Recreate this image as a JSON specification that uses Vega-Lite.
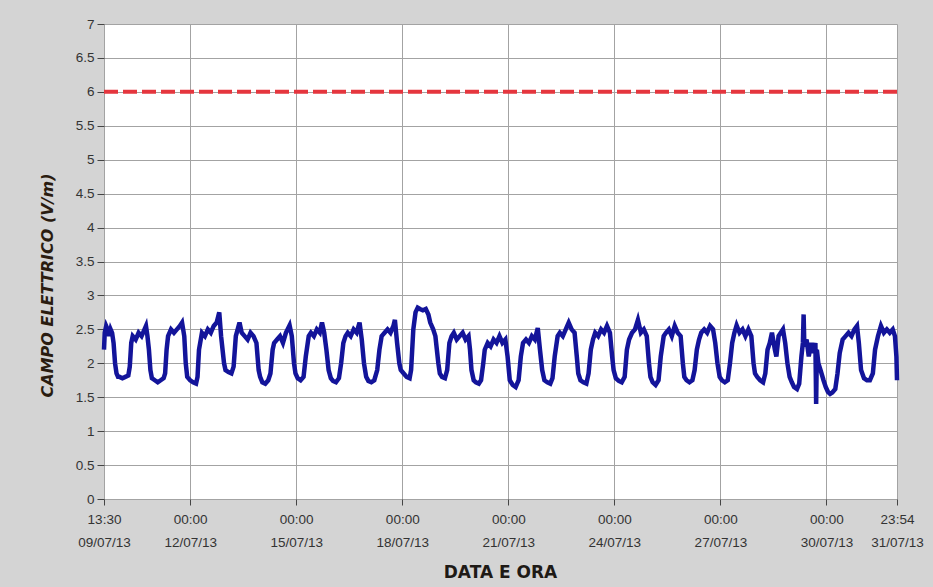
{
  "$schema": "https://vega.github.io/schema/vega-lite/v6.json",
  "width": 793,
  "height": 475,
  "autosize": {"type": "none"},
  "padding": {"left": 104, "top": 24, "right": 36, "bottom": 88},
  "background": "#d4d4d4",
  "config": {"view": {"fill": "white", "stroke": null}, "font": "Liberation Sans"},
  "data": {"values": [
    {"t":"2013-07-09T13:30","v":2.2},{"t":"2013-07-09T14:00","v":2.45},{"t":"2013-07-09T15:00","v":2.55},{"t":"2013-07-09T16:00","v":2.5},{"t":"2013-07-09T17:00","v":2.4},{"t":"2013-07-09T18:00","v":2.5},{"t":"2013-07-09T19:00","v":2.45},{"t":"2013-07-09T20:00","v":2.3},{"t":"2013-07-09T21:00","v":2.0},{"t":"2013-07-09T22:00","v":1.85},{"t":"2013-07-09T23:00","v":1.8},
    {"t":"2013-07-10T00:00","v":1.8},{"t":"2013-07-10T02:00","v":1.78},{"t":"2013-07-10T04:00","v":1.8},{"t":"2013-07-10T06:00","v":1.82},{"t":"2013-07-10T07:00","v":1.95},{"t":"2013-07-10T08:00","v":2.3},{"t":"2013-07-10T09:00","v":2.4},{"t":"2013-07-10T11:00","v":2.35},{"t":"2013-07-10T13:00","v":2.45},{"t":"2013-07-10T15:00","v":2.4},{"t":"2013-07-10T17:00","v":2.5},{"t":"2013-07-10T18:00","v":2.55},{"t":"2013-07-10T19:00","v":2.4},{"t":"2013-07-10T20:00","v":2.2},{"t":"2013-07-10T21:00","v":1.9},{"t":"2013-07-10T22:00","v":1.78},
    {"t":"2013-07-11T00:00","v":1.75},{"t":"2013-07-11T02:00","v":1.72},{"t":"2013-07-11T04:00","v":1.75},{"t":"2013-07-11T06:00","v":1.78},{"t":"2013-07-11T07:00","v":1.85},{"t":"2013-07-11T08:00","v":2.2},{"t":"2013-07-11T09:00","v":2.4},{"t":"2013-07-11T11:00","v":2.5},{"t":"2013-07-11T13:00","v":2.45},{"t":"2013-07-11T15:00","v":2.5},{"t":"2013-07-11T17:00","v":2.55},{"t":"2013-07-11T18:30","v":2.6},{"t":"2013-07-11T20:00","v":2.4},{"t":"2013-07-11T21:00","v":2.0},{"t":"2013-07-11T22:00","v":1.8},
    {"t":"2013-07-12T00:00","v":1.75},{"t":"2013-07-12T02:00","v":1.72},{"t":"2013-07-12T04:00","v":1.7},{"t":"2013-07-12T05:00","v":1.8},{"t":"2013-07-12T06:00","v":2.2},{"t":"2013-07-12T08:00","v":2.45},{"t":"2013-07-12T10:00","v":2.4},{"t":"2013-07-12T12:00","v":2.5},{"t":"2013-07-12T14:00","v":2.45},{"t":"2013-07-12T16:00","v":2.55},{"t":"2013-07-12T18:00","v":2.6},{"t":"2013-07-12T19:45","v":2.75},{"t":"2013-07-12T21:00","v":2.4},{"t":"2013-07-12T22:00","v":2.2},{"t":"2013-07-12T23:00","v":2.0},
    {"t":"2013-07-13T00:00","v":1.9},{"t":"2013-07-13T02:00","v":1.87},{"t":"2013-07-13T04:00","v":1.85},{"t":"2013-07-13T05:30","v":1.95},{"t":"2013-07-13T07:00","v":2.4},{"t":"2013-07-13T09:30","v":2.6},{"t":"2013-07-13T11:00","v":2.45},{"t":"2013-07-13T13:00","v":2.4},{"t":"2013-07-13T15:00","v":2.35},{"t":"2013-07-13T17:00","v":2.45},{"t":"2013-07-13T19:00","v":2.4},{"t":"2013-07-13T21:00","v":2.3},{"t":"2013-07-13T22:30","v":1.9},{"t":"2013-07-13T23:30","v":1.8},
    {"t":"2013-07-14T01:00","v":1.72},{"t":"2013-07-14T03:00","v":1.7},{"t":"2013-07-14T05:00","v":1.75},{"t":"2013-07-14T06:30","v":1.85},{"t":"2013-07-14T08:00","v":2.2},{"t":"2013-07-14T09:00","v":2.3},{"t":"2013-07-14T11:00","v":2.35},{"t":"2013-07-14T13:00","v":2.4},{"t":"2013-07-14T15:00","v":2.3},{"t":"2013-07-14T17:00","v":2.45},{"t":"2013-07-14T19:30","v":2.56},{"t":"2013-07-14T21:00","v":2.4},{"t":"2013-07-14T22:30","v":2.0},{"t":"2013-07-14T23:30","v":1.85},
    {"t":"2013-07-15T01:00","v":1.78},{"t":"2013-07-15T03:00","v":1.75},{"t":"2013-07-15T05:00","v":1.8},{"t":"2013-07-15T06:30","v":2.1},{"t":"2013-07-15T08:30","v":2.4},{"t":"2013-07-15T10:00","v":2.45},{"t":"2013-07-15T12:00","v":2.4},{"t":"2013-07-15T14:00","v":2.5},{"t":"2013-07-15T16:00","v":2.45},{"t":"2013-07-15T17:30","v":2.6},{"t":"2013-07-15T19:00","v":2.45},{"t":"2013-07-15T20:30","v":2.2},{"t":"2013-07-15T22:00","v":1.9},{"t":"2013-07-15T23:30","v":1.78},
    {"t":"2013-07-16T01:00","v":1.74},{"t":"2013-07-16T03:00","v":1.72},{"t":"2013-07-16T05:00","v":1.78},{"t":"2013-07-16T06:30","v":2.0},{"t":"2013-07-16T08:00","v":2.3},{"t":"2013-07-16T09:30","v":2.4},{"t":"2013-07-16T11:00","v":2.45},{"t":"2013-07-16T13:00","v":2.4},{"t":"2013-07-16T15:00","v":2.5},{"t":"2013-07-16T17:00","v":2.45},{"t":"2013-07-16T19:00","v":2.6},{"t":"2013-07-16T20:30","v":2.35},{"t":"2013-07-16T22:00","v":2.0},{"t":"2013-07-16T23:30","v":1.8},
    {"t":"2013-07-17T01:00","v":1.74},{"t":"2013-07-17T03:00","v":1.72},{"t":"2013-07-17T05:00","v":1.75},{"t":"2013-07-17T07:00","v":1.9},{"t":"2013-07-17T08:30","v":2.2},{"t":"2013-07-17T10:00","v":2.4},{"t":"2013-07-17T12:00","v":2.45},{"t":"2013-07-17T14:00","v":2.5},{"t":"2013-07-17T16:00","v":2.45},{"t":"2013-07-17T18:00","v":2.55},{"t":"2013-07-17T19:00","v":2.64},{"t":"2013-07-17T20:30","v":2.3},{"t":"2013-07-17T22:00","v":2.0},{"t":"2013-07-17T23:00","v":1.9},
    {"t":"2013-07-18T01:00","v":1.85},{"t":"2013-07-18T03:00","v":1.8},{"t":"2013-07-18T05:00","v":1.78},{"t":"2013-07-18T06:00","v":1.9},{"t":"2013-07-18T07:30","v":2.5},{"t":"2013-07-18T09:00","v":2.75},{"t":"2013-07-18T10:30","v":2.82},{"t":"2013-07-18T12:00","v":2.8},{"t":"2013-07-18T14:00","v":2.78},{"t":"2013-07-18T16:00","v":2.8},{"t":"2013-07-18T17:45","v":2.72},{"t":"2013-07-18T19:00","v":2.6},{"t":"2013-07-18T21:00","v":2.5},{"t":"2013-07-18T22:30","v":2.4},{"t":"2013-07-18T23:30","v":2.2},
    {"t":"2013-07-19T00:30","v":2.0},{"t":"2013-07-19T01:30","v":1.85},{"t":"2013-07-19T03:00","v":1.8},{"t":"2013-07-19T05:00","v":1.78},{"t":"2013-07-19T06:30","v":1.9},{"t":"2013-07-19T08:00","v":2.3},{"t":"2013-07-19T09:30","v":2.4},{"t":"2013-07-19T11:00","v":2.45},{"t":"2013-07-19T13:00","v":2.35},{"t":"2013-07-19T15:00","v":2.4},{"t":"2013-07-19T17:00","v":2.45},{"t":"2013-07-19T19:00","v":2.35},{"t":"2013-07-19T21:00","v":2.4},{"t":"2013-07-19T22:00","v":2.2},{"t":"2013-07-19T23:00","v":1.9},
    {"t":"2013-07-20T00:30","v":1.75},{"t":"2013-07-20T02:00","v":1.72},{"t":"2013-07-20T04:00","v":1.7},{"t":"2013-07-20T05:30","v":1.75},{"t":"2013-07-20T07:00","v":2.0},{"t":"2013-07-20T08:00","v":2.2},{"t":"2013-07-20T10:00","v":2.3},{"t":"2013-07-20T12:00","v":2.25},{"t":"2013-07-20T14:00","v":2.35},{"t":"2013-07-20T16:00","v":2.3},{"t":"2013-07-20T18:00","v":2.4},{"t":"2013-07-20T20:00","v":2.3},{"t":"2013-07-20T22:00","v":2.35},{"t":"2013-07-20T23:30","v":2.1},
    {"t":"2013-07-21T01:00","v":1.75},{"t":"2013-07-21T03:00","v":1.68},{"t":"2013-07-21T05:00","v":1.65},{"t":"2013-07-21T07:00","v":1.75},{"t":"2013-07-21T08:30","v":2.1},{"t":"2013-07-21T10:00","v":2.3},{"t":"2013-07-21T12:00","v":2.35},{"t":"2013-07-21T14:00","v":2.3},{"t":"2013-07-21T16:00","v":2.4},{"t":"2013-07-21T18:00","v":2.35},{"t":"2013-07-21T20:00","v":2.52},{"t":"2013-07-21T21:30","v":2.2},{"t":"2013-07-21T23:00","v":1.9},
    {"t":"2013-07-22T00:30","v":1.75},{"t":"2013-07-22T02:30","v":1.72},{"t":"2013-07-22T04:30","v":1.7},{"t":"2013-07-22T06:00","v":1.78},{"t":"2013-07-22T07:30","v":2.1},{"t":"2013-07-22T09:30","v":2.4},{"t":"2013-07-22T11:00","v":2.45},{"t":"2013-07-22T13:00","v":2.4},{"t":"2013-07-22T15:00","v":2.5},{"t":"2013-07-22T17:00","v":2.6},{"t":"2013-07-22T19:00","v":2.5},{"t":"2013-07-22T21:00","v":2.45},{"t":"2013-07-22T22:30","v":2.1},{"t":"2013-07-22T23:30","v":1.85},
    {"t":"2013-07-23T01:00","v":1.75},{"t":"2013-07-23T03:00","v":1.72},{"t":"2013-07-23T05:00","v":1.7},{"t":"2013-07-23T06:30","v":1.85},{"t":"2013-07-23T08:00","v":2.2},{"t":"2013-07-23T09:30","v":2.35},{"t":"2013-07-23T11:00","v":2.45},{"t":"2013-07-23T13:00","v":2.4},{"t":"2013-07-23T15:00","v":2.5},{"t":"2013-07-23T17:00","v":2.45},{"t":"2013-07-23T19:00","v":2.55},{"t":"2013-07-23T21:00","v":2.45},{"t":"2013-07-23T22:30","v":2.1},{"t":"2013-07-23T23:30","v":1.9},
    {"t":"2013-07-24T01:00","v":1.78},{"t":"2013-07-24T03:00","v":1.74},{"t":"2013-07-24T05:00","v":1.72},{"t":"2013-07-24T07:00","v":1.8},{"t":"2013-07-24T08:30","v":2.2},{"t":"2013-07-24T10:00","v":2.35},{"t":"2013-07-24T12:00","v":2.45},{"t":"2013-07-24T14:00","v":2.5},{"t":"2013-07-24T16:00","v":2.64},{"t":"2013-07-24T18:00","v":2.45},{"t":"2013-07-24T20:00","v":2.5},{"t":"2013-07-24T22:00","v":2.4},{"t":"2013-07-24T23:30","v":2.0},
    {"t":"2013-07-25T00:30","v":1.8},{"t":"2013-07-25T02:00","v":1.72},{"t":"2013-07-25T04:00","v":1.68},{"t":"2013-07-25T06:00","v":1.75},{"t":"2013-07-25T07:30","v":2.1},{"t":"2013-07-25T09:30","v":2.4},{"t":"2013-07-25T11:00","v":2.45},{"t":"2013-07-25T13:00","v":2.5},{"t":"2013-07-25T15:00","v":2.4},{"t":"2013-07-25T17:00","v":2.55},{"t":"2013-07-25T19:00","v":2.45},{"t":"2013-07-25T21:00","v":2.4},{"t":"2013-07-25T22:30","v":2.0},{"t":"2013-07-25T23:30","v":1.8},
    {"t":"2013-07-26T01:00","v":1.75},{"t":"2013-07-26T03:00","v":1.72},{"t":"2013-07-26T05:00","v":1.75},{"t":"2013-07-26T06:30","v":1.9},{"t":"2013-07-26T08:00","v":2.2},{"t":"2013-07-26T09:30","v":2.35},{"t":"2013-07-26T11:00","v":2.45},{"t":"2013-07-26T13:00","v":2.5},{"t":"2013-07-26T15:00","v":2.45},{"t":"2013-07-26T17:00","v":2.55},{"t":"2013-07-26T19:00","v":2.5},{"t":"2013-07-26T20:30","v":2.3},{"t":"2013-07-26T22:00","v":2.0},{"t":"2013-07-26T23:30","v":1.8},
    {"t":"2013-07-27T01:00","v":1.75},{"t":"2013-07-27T03:00","v":1.72},{"t":"2013-07-27T05:00","v":1.75},{"t":"2013-07-27T06:30","v":2.0},{"t":"2013-07-27T08:00","v":2.3},{"t":"2013-07-27T09:30","v":2.45},{"t":"2013-07-27T11:00","v":2.56},{"t":"2013-07-27T13:00","v":2.45},{"t":"2013-07-27T15:00","v":2.5},{"t":"2013-07-27T17:00","v":2.4},{"t":"2013-07-27T19:00","v":2.5},{"t":"2013-07-27T21:00","v":2.4},{"t":"2013-07-27T22:30","v":2.0},{"t":"2013-07-27T23:30","v":1.85},
    {"t":"2013-07-28T01:00","v":1.8},{"t":"2013-07-28T03:00","v":1.75},{"t":"2013-07-28T05:00","v":1.72},{"t":"2013-07-28T06:30","v":1.85},{"t":"2013-07-28T08:00","v":2.2},{"t":"2013-07-28T09:30","v":2.3},{"t":"2013-07-28T11:00","v":2.45},{"t":"2013-07-28T13:00","v":2.2},{"t":"2013-07-28T14:00","v":2.1},{"t":"2013-07-28T15:30","v":2.4},{"t":"2013-07-28T17:00","v":2.45},{"t":"2013-07-28T18:30","v":2.5},{"t":"2013-07-28T20:00","v":2.3},{"t":"2013-07-28T21:30","v":2.0},{"t":"2013-07-28T23:00","v":1.8},
    {"t":"2013-07-29T00:30","v":1.72},{"t":"2013-07-29T02:00","v":1.65},{"t":"2013-07-29T04:00","v":1.62},{"t":"2013-07-29T05:30","v":1.7},{"t":"2013-07-29T07:00","v":2.1},{"t":"2013-07-29T08:00","v":2.3},{"t":"2013-07-29T08:30","v":2.72},{"t":"2013-07-29T09:00","v":2.25},{"t":"2013-07-29T10:30","v":2.35},{"t":"2013-07-29T12:00","v":2.1},{"t":"2013-07-29T13:30","v":2.3},{"t":"2013-07-29T15:00","v":2.15},{"t":"2013-07-29T16:30","v":2.3},{"t":"2013-07-29T17:00","v":1.4},{"t":"2013-07-29T17:30","v":2.2},{"t":"2013-07-29T18:30","v":2.0},{"t":"2013-07-29T20:00","v":1.9},{"t":"2013-07-29T22:00","v":1.75},{"t":"2013-07-29T23:30","v":1.65},
    {"t":"2013-07-30T01:00","v":1.58},{"t":"2013-07-30T02:30","v":1.55},{"t":"2013-07-30T04:00","v":1.57},{"t":"2013-07-30T06:00","v":1.62},{"t":"2013-07-30T07:30","v":1.85},{"t":"2013-07-30T09:00","v":2.15},{"t":"2013-07-30T11:00","v":2.35},{"t":"2013-07-30T13:00","v":2.4},{"t":"2013-07-30T15:00","v":2.45},{"t":"2013-07-30T17:00","v":2.4},{"t":"2013-07-30T19:00","v":2.5},{"t":"2013-07-30T20:45","v":2.55},{"t":"2013-07-30T22:00","v":2.3},{"t":"2013-07-30T23:30","v":1.9},
    {"t":"2013-07-31T01:30","v":1.78},{"t":"2013-07-31T03:30","v":1.75},{"t":"2013-07-31T05:30","v":1.75},{"t":"2013-07-31T07:30","v":1.85},{"t":"2013-07-31T09:00","v":2.2},{"t":"2013-07-31T11:00","v":2.4},{"t":"2013-07-31T13:00","v":2.55},{"t":"2013-07-31T15:00","v":2.45},{"t":"2013-07-31T17:00","v":2.5},{"t":"2013-07-31T19:00","v":2.45},{"t":"2013-07-31T21:00","v":2.5},{"t":"2013-07-31T22:30","v":2.4},{"t":"2013-07-31T23:30","v":2.1},{"t":"2013-07-31T23:54","v":1.75}
  ]},
  "layer": [
    {
      "mark": {"type": "line", "color": "#13149a", "strokeWidth": 4.5},
      "encoding": {
        "x": {
          "field": "t", "type": "temporal",
          "scale": {"nice": false, "domain": [
            {"year": 2013, "month": 7, "date": 9, "hours": 13, "minutes": 30},
            {"year": 2013, "month": 7, "date": 31, "hours": 23, "minutes": 54}
          ]},
          "axis": {
            "title": "DATA E ORA",
            "values": [
              {"year": 2013, "month": 7, "date": 9, "hours": 13, "minutes": 30},
              {"year": 2013, "month": 7, "date": 12},
              {"year": 2013, "month": 7, "date": 15},
              {"year": 2013, "month": 7, "date": 18},
              {"year": 2013, "month": 7, "date": 21},
              {"year": 2013, "month": 7, "date": 24},
              {"year": 2013, "month": 7, "date": 27},
              {"year": 2013, "month": 7, "date": 30},
              {"year": 2013, "month": 7, "date": 31, "hours": 23, "minutes": 54}
            ],
            "tickCount": 30,
            "labelExpr": "[timeFormat(datum.value, '%H:%M'), timeFormat(datum.value, '%d/%m/%y')]",
            "labelFont": "Liberation Sans", "labelFontSize": 13.5, "labelColor": "#333333",
            "labelLineHeight": 23, "labelPadding": 7, "labelOverlap": false, "labelFlush": false, "labelBound": false,
            "tickSize": 6, "tickColor": "#444444", "domain": false,
            "grid": true, "gridColor": "#a3a3a3", "gridWidth": 1,
            "titleFont": "DejaVu Sans", "titleFontWeight": "bold", "titleFontSize": 17, "titleColor": "#1e1a16",
            "titleX": 396, "titleY": 73, "titleAlign": "center", "titleBaseline": "middle"
          }
        },
        "y": {
          "field": "v", "type": "quantitative",
          "scale": {"domain": [0, 7], "nice": false},
          "axis": {
            "title": "CAMPO ELETTRICO (V/m)",
            "values": [0, 0.5, 1, 1.5, 2, 2.5, 3, 3.5, 4, 4.5, 5, 5.5, 6, 6.5, 7],
            "tickCount": 30,
            "format": ".1~f", "labelOverlap": false,
            "labelFont": "Liberation Sans", "labelFontSize": 13.5, "labelColor": "#333333", "labelPadding": 3,
            "tickSize": 7, "tickColor": "#444444", "domain": false,
            "grid": true, "gridColor": "#a3a3a3", "gridWidth": 1,
            "titleFont": "DejaVu Sans", "titleFontWeight": "bold", "titleFontStyle": "italic", "titleFontSize": 16, "titleColor": "#2a1c10",
            "titleAngle": 270, "titleX": -57, "titleY": 261, "titleAlign": "center", "titleBaseline": "middle"
          }
        }
      }
    },
    {
      "data": {"values": [{"limite": 6}]},
      "mark": {"type": "rule", "color": "#e5363e", "strokeWidth": 4, "strokeDash": [14, 5]},
      "encoding": {"y": {
        "field": "limite", "type": "quantitative",
        "axis": {
          "title": "CAMPO ELETTRICO (V/m)",
          "values": [0, 0.5, 1, 1.5, 2, 2.5, 3, 3.5, 4, 4.5, 5, 5.5, 6, 6.5, 7],
          "tickCount": 30,
          "format": ".1~f", "labelOverlap": false,
          "labelFont": "Liberation Sans", "labelFontSize": 13.5, "labelColor": "#333333", "labelPadding": 3,
          "tickSize": 7, "tickColor": "#444444", "domain": false,
          "grid": true, "gridColor": "#a3a3a3", "gridWidth": 1,
          "titleFont": "DejaVu Sans", "titleFontWeight": "bold", "titleFontStyle": "italic", "titleFontSize": 16, "titleColor": "#2a1c10",
          "titleAngle": 270, "titleX": -57, "titleY": 261, "titleAlign": "center", "titleBaseline": "middle"
        }
      }}
    }
  ]
}
